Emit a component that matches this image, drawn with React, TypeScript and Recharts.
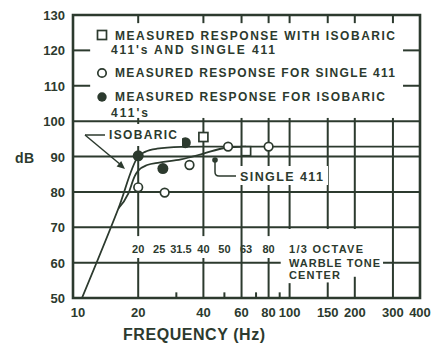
import {
  ComposedChart,
  Line,
  Scatter,
  XAxis,
  YAxis,
  ReferenceArea,
  ReferenceLine,
  ReferenceDot,
} from 'recharts';

const INK = '#2c3a2e';
const FONT = "'Liberation Sans', Arial, sans-serif";

// axes
const xTicks = [10, 20, 40, 60, 80, 100, 150, 200, 300, 400];
const yTicks = [50, 60, 70, 80, 90, 100, 110, 120, 130];
const minorX = [30, 50, 70, 90];

// grid lines, with the gaps the printed notes leave: [value, [from, to] ...]
const LEG_LO = 100.9, LEG_HI = 127.7;
const gridV: [number, number[][]][] = [
  [20, [[50, 61.3], [67.5, LEG_LO], [LEG_HI, 130]]],
  [40, [[50, 61.3], [67.5, LEG_LO], [LEG_HI, 130]]],
  [60, [[50, LEG_LO], [LEG_HI, 130]]],
  [80, [[50, 61.3], [67.5, LEG_LO], [LEG_HI, 130]]],
  [100, [[50, 54.2], [69.5, LEG_LO], [LEG_HI, 130]]],
  [150, [[50, 54.4], [69.5, LEG_LO], [LEG_HI, 130]]],
  [200, [[50, 56.0], [69.5, LEG_LO], [LEG_HI, 130]]],
  [300, [[50, LEG_LO], [LEG_HI, 130]]],
];
const gridH: [number, number[][]][] = [
  [60, [[10, 91], [270, 400]]],
  [70, [[10, 400]]],
  [80, [[10, 400]]],
  [90, [[10, 400]]],
  [100, [[10, 400]]],
  [110, [[10, 12], [334, 400]]],
  [120, [[10, 12], [334, 400]]],
];

// 1/3 octave warble tone centres printed in the plot
const bandF = [20, 25, 31.5, 40, 50, 63, 80];
const bandLabels = ['20', '25', '31.5', '40', '50', '63', '80'];

// drawn response curves
const isoCurveF = [11, 16.2, 20, 21.5, 24.4, 31.5, 40, 50, 63, 80, 100, 150, 200, 300, 400];
const isoCurveDb = [50, 75.3, 90, 91.3, 92.2, 92.7, 92.8, 92.8, 92.8, 92.8, 92.8, 92.8, 92.8, 92.8, 92.8];
const singleCurveF = [16.2, 18, 19.3, 20, 22, 25, 31.5, 40, 50, 63];
const singleCurveDb = [75.3, 79.5, 84.5, 86, 87.6, 88.3, 89.2, 90.8, 92.4, 92.8];

// measured points
const squareF = [40, 63];
const squareDb = [95.5, 91.5];
const openF = [20, 26.5, 34.5, 52, 80];
const openDb = [81.3, 79.8, 87.6, 92.8, 92.8];
const filledF = [20, 26, 33];
const filledDb = [90.2, 86.6, 93.9];

const pts = (fs: number[], ds: number[]) => fs.map((f, i) => ({ f, db: ds[i] }));

const SquareDot = (p: any) => (
  <rect x={p.cx - 4.5} y={p.cy - 4.5} width={9} height={9} fill="#fff" stroke={INK} strokeWidth={1.7} />
);
const OpenDot = (p: any) => <circle cx={p.cx} cy={p.cy} r={4.3} fill="#fff" stroke={INK} strokeWidth={1.7} />;
const FilledDot = (p: any) => <circle cx={p.cx} cy={p.cy} r={5.5} fill={INK} />;

const XTick = ({ x, y, payload }: any) => (
  <text x={x + (payload.value === 10 ? 5 : 0)} y={y + 11} textAnchor="middle" fill={INK}
    fontFamily={FONT} fontWeight="bold" fontSize={13}>
    {payload.value}
  </text>
);
const YTick = ({ x, y, payload }: any) => (
  <text x={x} y={y + 5} textAnchor="end" fill={INK} fontFamily={FONT} fontWeight="bold" fontSize={13}>
    {payload.value}
  </text>
);

const txt = { fill: INK, fontFamily: FONT, fontWeight: 'bold' as const };

export default function App() {
  return (
    <div style={{ position: 'absolute', left: 0, top: 0, width: 438, height: 345, background: '#fff' }}>
      <ComposedChart width={438} height={345} margin={{ top: 15, right: 18, bottom: 17, left: 0 }}>
        <XAxis type="number" dataKey="f" scale="log" domain={[10, 400]} ticks={xTicks} height={30}
          allowDataOverflow axisLine={false} tickLine={false} tick={<XTick />} interval={0} />
        <YAxis type="number" dataKey="db" domain={[50, 130]} ticks={yTicks} width={73}
          allowDataOverflow axisLine={false} tickLine={false} tick={<YTick />} interval={0} />

        {/* grid */}
        {gridH.flatMap(([v, runs]) =>
          runs.map(([a, b]) => (
            <ReferenceLine key={`h${v}-${a}`} segment={[{ x: a, y: v }, { x: b, y: v }]} stroke={INK} strokeWidth={2} />
          ))
        )}
        {gridV.flatMap(([f, runs]) =>
          runs.map(([a, b]) => (
            <ReferenceLine key={`v${f}-${a}`} segment={[{ x: f, y: a }, { x: f, y: b }]} stroke={INK} strokeWidth={2} />
          ))
        )}
        {minorX.map((f) => (
          <ReferenceLine key={f} segment={[{ x: f, y: 50 }, { x: f, y: 51.6 }]} stroke={INK} strokeWidth={2} />
        ))}
        {bandF.map((f, i) => (
          <ReferenceDot key={f} x={f} y={63.9} r={0} fill="none" stroke="none"
            label={{ value: bandLabels[i], position: 'center', fill: INK, fontFamily: FONT, fontWeight: 'bold', fontSize: 11 }} />
        ))}

        <Line data={pts(isoCurveF, isoCurveDb)} dataKey="db" type="monotoneX" stroke={INK}
          strokeWidth={1.8} dot={false} isAnimationActive={false} />
        <Line data={pts(singleCurveF, singleCurveDb)} dataKey="db" type="monotoneX" stroke={INK}
          strokeWidth={1.8} dot={false} isAnimationActive={false} />
        <Scatter data={pts(squareF, squareDb)} dataKey="db" shape={<SquareDot />} isAnimationActive={false} />
        <Scatter data={pts(openF, openDb)} dataKey="db" shape={<OpenDot />} isAnimationActive={false} />
        <Scatter data={pts(filledF, filledDb)} dataKey="db" shape={<FilledDot />} isAnimationActive={false} />

        <ReferenceArea x1={10} x2={400} y1={50} y2={130} fill="none" stroke={INK} strokeWidth={2.6} ifOverflow="visible" />
      </ComposedChart>

      <svg width={438} height={345} style={{ position: 'absolute', left: 0, top: 0, pointerEvents: 'none' }}>
        <text x={15} y={163} fontSize={14} textLength={19} {...txt}>dB</text>

        {/* legend */}
        <rect x={97.5} y={30.5} width={9} height={9} fill="#fff" stroke={INK} strokeWidth={1.7} />
        <circle cx={102} cy={73} r={4.2} fill="#fff" stroke={INK} strokeWidth={1.7} />
        <circle cx={102} cy={97} r={4.7} fill={INK} />
        <text x={115} y={40} fontSize={12} textLength={280} lengthAdjust="spacing" {...txt}>MEASURED RESPONSE WITH ISOBARIC</text>
        <text x={111} y={54} fontSize={12} textLength={164} lengthAdjust="spacing" {...txt}>411's AND SINGLE 411</text>
        <text x={115} y={77} fontSize={12} textLength={280} lengthAdjust="spacing" {...txt}>MEASURED RESPONSE FOR SINGLE 411</text>
        <text x={115} y={101} fontSize={12} textLength={270} lengthAdjust="spacing" {...txt}>MEASURED RESPONSE FOR ISOBARIC</text>
        <text x={111} y={117} fontSize={12} textLength={37} lengthAdjust="spacing" {...txt}>411's</text>

        {/* ISOBARIC note */}
        <rect x={104} y={124} width={78} height={22} fill="#fff" />
        <text x={109} y={139} fontSize={12} textLength={68} lengthAdjust="spacing" {...txt}>ISOBARIC</text>
        <line x1={85} y1={135} x2={105} y2={135} stroke={INK} strokeWidth={1.5} />
        <line x1={85} y1={135} x2={121} y2={165} stroke={INK} strokeWidth={1.5} />
        <polygon points="125,169 116.6,166.5 121.2,161.1" fill={INK} />

        {/* SINGLE 411 note */}
        <rect x={236} y={166} width={92} height={19} fill="#fff" />
        <circle cx={215} cy={160} r={2.8} fill={INK} />
        <path d="M215,160 V172 Q215,176 219,176 H236" fill="none" stroke={INK} strokeWidth={1.5} />
        <text x={240} y={181} fontSize={12.5} textLength={83} lengthAdjust="spacing" {...txt}>SINGLE 411</text>

        {/* 1/3 octave note */}
        <text x={289} y={253} fontSize={11} textLength={74} lengthAdjust="spacing" {...txt}>1/3 OCTAVE</text>
        <text x={289} y={267} fontSize={11} textLength={91} lengthAdjust="spacing" {...txt}>WARBLE TONE</text>
        <text x={289} y={279} fontSize={11} textLength={51} lengthAdjust="spacing" {...txt}>CENTER</text>

        <text x={123} y={340} fontSize={16} textLength={142} lengthAdjust="spacing" {...txt}>FREQUENCY (Hz)</text>
      </svg>
    </div>
  );
}
